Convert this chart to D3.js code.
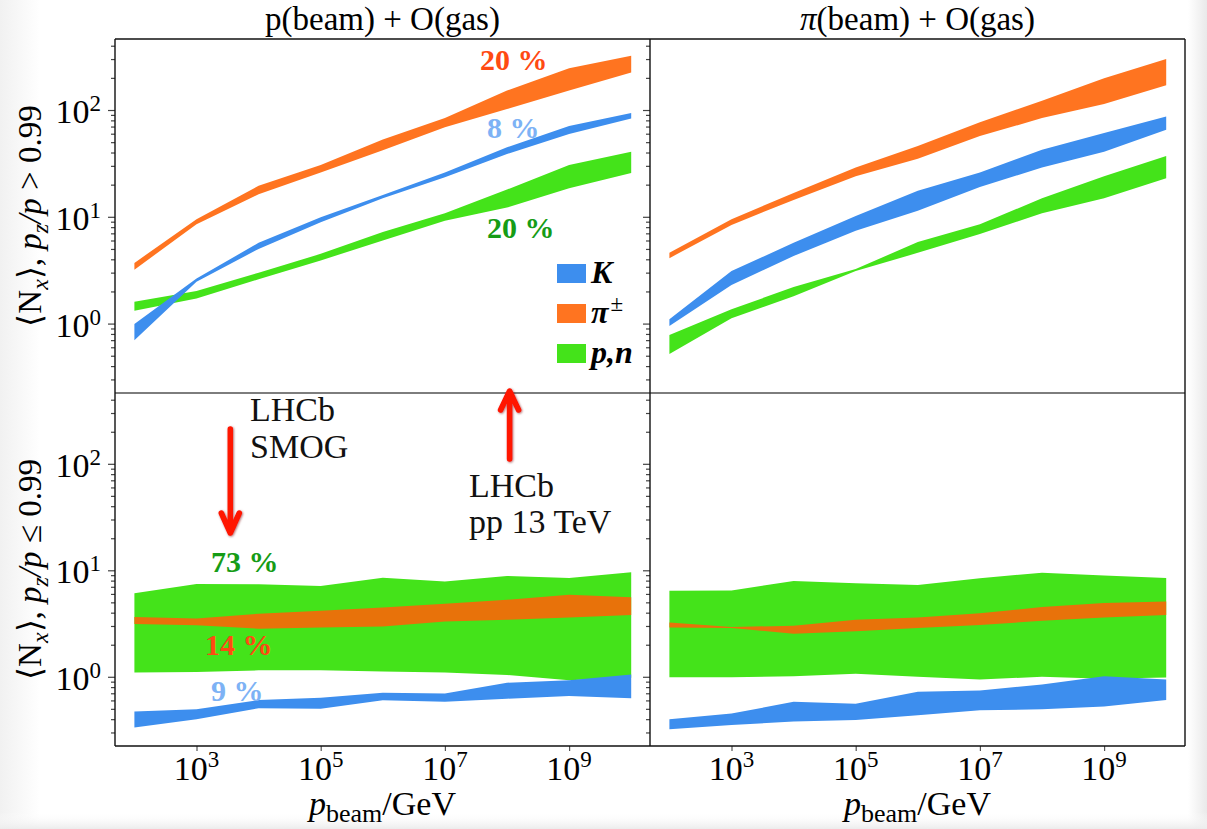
<!DOCTYPE html>
<html>
<head>
<meta charset="utf-8">
<script src="https://cdn.jsdelivr.net/npm/d3@7"></script>
<style>
  body { margin: 0; background: #fff; }
  text { font-family: "Liberation Serif", "Times New Roman", serif; }
</style>
</head>
<body>
<script>
// beam momentum (GeV) where the bands are sampled
const pBeam = [1e2, 1e3, 1e4, 1e5, 1e6, 1e7, 1e8, 1e9, 1e10]

// p(beam) + O(gas), pz/p > 0.99
const pFwdKLo = [0.70, 2.47, 5.0, 8.9, 14.9, 23.4, 38.7, 59.5, 83.5]
const pFwdKHi = [0.99, 2.65, 5.7, 9.9, 16, 26, 44.7, 71, 94]
const pFwdPiLo = [3.2, 8.5, 16.3, 26, 42, 69, 102, 152, 225]
const pFwdPiHi = [3.7, 9.5, 19.5, 30.5, 53, 84, 152, 246, 323]
const pFwdNLo = [1.32, 1.72, 2.6, 3.9, 6.0, 9.2, 12.2, 18.5, 25.7]
const pFwdNHi = [1.6, 2.02, 3.0, 4.5, 7.2, 10.8, 18, 30.5, 40.6]

// pi(beam) + O(gas), pz/p > 0.99
const piFwdKLo = [0.95, 2.3, 4.3, 7.4, 11.4, 19, 29, 40.6, 65.5]
const piFwdKHi = [1.1, 3.1, 5.7, 10.2, 17.5, 26, 42.5, 61, 87]
const piFwdPiLo = [4.1, 8.4, 14.4, 24, 35, 57, 84, 114, 171]
const piFwdPiHi = [4.6, 9.5, 16.7, 29, 46, 77, 122, 198, 300]
const piFwdNLo = [0.52, 1.12, 1.8, 3.1, 4.6, 6.9, 10.8, 14.9, 23]
const piFwdNHi = [0.78, 1.36, 2.2, 3.25, 5.8, 8.5, 14.9, 24, 37]

// p(beam) + O(gas), pz/p <= 0.99
const pBwdKLo = [0.334, 0.399, 0.506, 0.502, 0.601, 0.583, 0.623, 0.659, 0.627]
const pBwdKHi = [0.471, 0.495, 0.605, 0.637, 0.709, 0.698, 0.879, 0.93, 1.05]
const pBwdPiLo = [3.13, 3.04, 2.83, 2.91, 2.97, 3.31, 3.43, 3.61, 3.80]
const pBwdPiHi = [3.64, 3.53, 3.91, 4.17, 4.47, 4.84, 5.28, 5.88, 5.59]
const pBwdNLo = [1.10, 1.11, 1.15, 1.15, 1.12, 1.10, 1.04, 0.93, 0.98]
const pBwdNHi = [6.1, 7.45, 7.4, 7.13, 8.53, 7.84, 8.85, 8.47, 9.58]

// pi(beam) + O(gas), pz/p <= 0.99
const piBwdKLo = [0.322, 0.353, 0.38, 0.393, 0.435, 0.484, 0.495, 0.525, 0.605]
const piBwdKHi = [0.399, 0.451, 0.583, 0.559, 0.724, 0.745, 0.847, 1.01, 0.944]
const piBwdPiLo = [2.91, 2.87, 2.54, 2.67, 2.87, 3.06, 3.36, 3.61, 3.80]
const piBwdPiHi = [3.24, 2.93, 3.02, 3.43, 3.61, 3.96, 4.51, 4.92, 5.09]
const piBwdNLo = [0.99, 0.99, 1.01, 1.07, 1.0, 0.944, 1.0, 0.957, 0.986]
const piBwdNHi = [6.41, 6.45, 7.94, 7.55, 7.29, 8.41, 9.5, 8.92, 8.47]

const xTickExp = [3, 5, 7, 9]
const yTickExp = [0, 1, 2]
const titles = ['p(beam) + O(gas)', 'π(beam) + O(gas)']

const W = 1207, H = 829
const cols = [115, 650, 1185]
const rows = [39, 393, 746]
const blue = '#3d8eee', orange = '#ff7420', orangeDark = '#e8720a', green = '#44e31a'

const svg = d3.select('body').append('svg').attr('width', W).attr('height', H)

// slide background, greyish at the borders
const defs = svg.append('defs')
const gr = defs.append('linearGradient').attr('id', 'rightFade')
gr.append('stop').attr('offset', '0').attr('stop-color', '#fff')
gr.append('stop').attr('offset', '1').attr('stop-color', '#e9e9e9')
const gl = defs.append('linearGradient').attr('id', 'leftFade')
gl.append('stop').attr('offset', '0').attr('stop-color', '#f1f1f1')
gl.append('stop').attr('offset', '1').attr('stop-color', '#fff')
const gb = defs.append('linearGradient').attr('id', 'bottomFade').attr('x1', 0).attr('x2', 0).attr('y1', 0).attr('y2', 1)
gb.append('stop').attr('offset', '0').attr('stop-color', '#fff').attr('stop-opacity', 0)
gb.append('stop').attr('offset', '1').attr('stop-color', '#ececec')
const shadow = defs.append('filter').attr('id', 'arrowShadow')
shadow.append('feDropShadow').attr('dx', 0.8).attr('dy', 0.8).attr('stdDeviation', 1.2)
    .attr('flood-color', '#7a0000').attr('flood-opacity', 0.6)

svg.append('rect').attr('width', W).attr('height', H).attr('fill', '#fff')
svg.append('rect').attr('x', 1188).attr('width', W - 1188).attr('height', H).attr('fill', 'url(#rightFade)')
svg.append('rect').attr('x', 0).attr('width', 40).attr('height', H).attr('fill', 'url(#leftFade)')
svg.append('rect').attr('y', 812).attr('width', W).attr('height', H - 812).attr('fill', 'url(#bottomFade)')

const x = d3.scaleLog().domain([10 ** 1.6876, 10 ** 10.3027])
const y = d3.scaleLog().domain([10 ** -0.65, 10 ** 2.665])

const minorY = []
for (let k = -1; k <= 2; k++) {
    for (let m = 2; m <= 9; m++) {
        let v = m * 10 ** k
        if (v >= y.domain()[0] && v <= y.domain()[1]) minorY.push(v)
    }
}

const panels = [
    { c: 0, r: 0, bands: [[pFwdNLo, pFwdNHi, green], [pFwdPiLo, pFwdPiHi, orange], [pFwdKLo, pFwdKHi, blue]] },
    { c: 1, r: 0, bands: [[piFwdNLo, piFwdNHi, green], [piFwdPiLo, piFwdPiHi, orange], [piFwdKLo, piFwdKHi, blue]] },
    { c: 0, r: 1, bands: [[pBwdNLo, pBwdNHi, green], [pBwdPiLo, pBwdPiHi, orangeDark], [pBwdKLo, pBwdKHi, blue]] },
    { c: 1, r: 1, bands: [[piBwdNLo, piBwdNHi, green], [piBwdPiLo, piBwdPiHi, orangeDark], [piBwdKLo, piBwdKHi, blue]] }
]

const scales = {}
panels.forEach(p => {
    let xs = x.copy().range([cols[p.c], cols[p.c + 1]])
    let ys = y.copy().range([rows[p.r + 1], rows[p.r]])
    scales[p.c + '' + p.r] = { xs, ys }
    p.bands.forEach(([lo, hi, col]) => {
        let area = d3.area()
            .x((d, i) => xs(pBeam[i]))
            .y0((d, i) => ys(lo[i]))
            .y1((d, i) => ys(hi[i]))
        svg.append('path').datum(pBeam).attr('d', area).attr('fill', col)
    })

    // ticks on the left side of each panel
    let minorAxis = svg.append('g').attr('transform', `translate(${cols[p.c]},0)`)
        .call(d3.axisLeft(ys).tickValues(minorY).tickSize(4).tickFormat(''))
    let majorAxis = svg.append('g').attr('transform', `translate(${cols[p.c]},0)`)
        .call(d3.axisLeft(ys).tickValues(yTickExp.map(e => 10 ** e)).tickSize(7).tickFormat(''))
    ;[minorAxis, majorAxis].forEach(g => {
        g.select('.domain').remove()
        g.selectAll('line').attr('stroke', '#444').attr('stroke-width', 1.2)
    })

    if (p.r == 1) {
        let xa = svg.append('g').attr('transform', `translate(0,${rows[2]})`)
            .call(d3.axisBottom(xs).tickValues(xTickExp.map(e => 10 ** e)).tickSize(5).tickFormat(''))
        xa.select('.domain').remove()
        xa.selectAll('line').attr('stroke', '#555').attr('stroke-width', 1.2)

        xTickExp.forEach(e => {
            let t = svg.append('text').attr('x', xs(10 ** e)).attr('y', 780)
                .attr('text-anchor', 'middle').attr('font-size', 34)
            t.append('tspan').text('10')
            t.append('tspan').attr('dy', -13).attr('font-size', 23).text(e)
        })

        let xl = svg.append('text').attr('x', (cols[p.c] + cols[p.c + 1]) / 2).attr('y', 815)
            .attr('text-anchor', 'middle').attr('font-size', 34)
        xl.append('tspan').attr('font-style', 'italic').text('p')
        xl.append('tspan').attr('dy', 7).attr('font-size', 26).text('beam')
        xl.append('tspan').attr('dy', -7).text('/GeV')
    }

    if (p.c == 0) {
        yTickExp.forEach(e => {
            let t = svg.append('text').attr('x', 101).attr('y', ys(10 ** e) + 13)
                .attr('text-anchor', 'end').attr('font-size', 34)
            t.append('tspan').text('10')
            t.append('tspan').attr('dy', -12).attr('font-size', 23).text(e)
        })
        let cy = (rows[p.r] + rows[p.r + 1]) / 2
        let yl = svg.append('text').attr('transform', `translate(41,${cy}) rotate(-90)`)
            .attr('text-anchor', 'middle').attr('font-size', 33)
        yl.append('tspan').text('⟨N')
        yl.append('tspan').attr('dy', 7).attr('font-size', 24).attr('font-style', 'italic').text('x')
        yl.append('tspan').attr('dy', -7).text('⟩, ')
        yl.append('tspan').attr('font-style', 'italic').text('p')
        yl.append('tspan').attr('dy', 7).attr('font-size', 24).attr('font-style', 'italic').text('z')
        yl.append('tspan').attr('dy', -7).attr('font-style', 'italic').text('/p')
        yl.append('tspan').text(p.r == 0 ? ' > 0.99' : ' ≤ 0.99')
    }
})

// panel frames
const frame = svg.append('g').attr('fill', 'none')
frame.append('line').attr('x1', cols[0]).attr('x2', cols[2]).attr('y1', rows[1]).attr('y2', rows[1])
    .attr('stroke', '#7d7d7d').attr('stroke-width', 2)
cols.forEach(cx => {
    frame.append('line').attr('x1', cx).attr('x2', cx).attr('y1', rows[0]).attr('y2', rows[2])
        .attr('stroke', '#111').attr('stroke-width', 1.4)
})
;[rows[0], rows[2]].forEach(ry => {
    frame.append('line').attr('x1', cols[0]).attr('x2', cols[2]).attr('y1', ry).attr('y2', ry)
        .attr('stroke', '#111').attr('stroke-width', 1.4)
})

// titles
titles.forEach((t, i) => {
    let tt = svg.append('text').attr('x', (cols[i] + cols[i + 1]) / 2).attr('y', 30)
        .attr('text-anchor', 'middle').attr('font-size', 33)
    if (t.startsWith('π')) {
        tt.append('tspan').attr('font-style', 'italic').text('π')
        tt.append('tspan').text(t.slice(1))
    } else {
        tt.text(t)
    }
})

// legend (top left panel)
const legend = [['K', blue], ['π', orange], ['p,n', green]]
legend.forEach(([lab, col], i) => {
    svg.append('rect').attr('x', 557).attr('y', 264 + i * 40).attr('width', 29).attr('height', 19).attr('fill', col)
    let t = svg.append('text').attr('x', 591).attr('y', 283 + i * 40)
        .attr('font-size', 32).attr('font-style', 'italic').attr('font-weight', 'bold')
    t.append('tspan').text(lab)
    if (lab == 'π') t.append('tspan').attr('dx', 2).attr('dy', -12).attr('font-size', 23).attr('font-style', 'normal').attr('font-weight', 'normal').text('±')
})

// percentage labels
const pct = [
    ['20 %', '#ff4a12', 480, 70],
    ['8 %', '#7db2f5', 487, 138],
    ['20 %', '#169c16', 487, 238],
    ['73 %', '#169c16', 211, 572],
    ['14 %', '#ff4a12', 205, 655],
    ['9 %', '#7db2f5', 211, 701]
]
pct.forEach(([s, col, px, py]) => {
    svg.append('text').attr('x', px).attr('y', py).attr('font-size', 30).attr('font-weight', 'bold')
        .attr('fill', col).text(s)
})

// LHCb annotations
const sBL = scales['01']
const smogX = sBL.xs(3.5e3), ppX = sBL.xs(1.1e8)
const arrows = svg.append('g').attr('stroke', '#ff1200').attr('stroke-width', 5.5).attr('fill', 'none')
    .attr('stroke-linecap', 'round').attr('stroke-linejoin', 'round').attr('filter', 'url(#arrowShadow)')
arrows.append('path').attr('d', `M${smogX},429 L${smogX},532 M${smogX - 9},513 L${smogX},533 L${smogX + 9},513`)
arrows.append('path').attr('d', `M${ppX},459 L${ppX},392 M${ppX - 9},410 L${ppX},391 L${ppX + 9},410`)

const notes = [['LHCb', 250, 421], ['SMOG', 250, 458], ['LHCb', 469, 497], ['pp 13 TeV', 469, 533]]
notes.forEach(([s, nx, ny]) => {
    svg.append('text').attr('x', nx).attr('y', ny).attr('font-size', 34).attr('fill', '#111').text(s)
})
</script>
</body>
</html>
